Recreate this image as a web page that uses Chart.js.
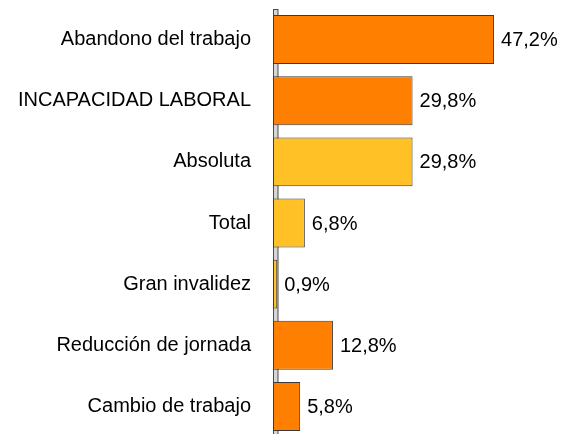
<!DOCTYPE html>
<html>
<head>
<meta charset="utf-8">
<script src="https://cdn.jsdelivr.net/npm/chart.js@4/dist/chart.umd.min.js"></script>
<style>
  html, body { margin: 0; padding: 0; background: #fff; overflow: hidden; }
  #wrap { position: relative; width: 561px; height: 440px; }
</style>
</head>
<body>
<div id="wrap"><canvas id="c" width="561" height="440"></canvas></div>
<script>
const categories = ["Abandono del trabajo", "INCAPACIDAD LABORAL", "Absoluta", "Total", "Gran invalidez", "Reducción de jornada", "Cambio de trabajo"];
const values = [47.2, 29.8, 29.8, 6.8, 0.9, 12.8, 5.8];
const barColors = ["#FF8000", "#FF8000", "#FFC125", "#FFC125", "#FFC125", "#FF8000", "#FF8000"];
const xMax = 60;

const FONT = "'Liberation Sans', Arial, sans-serif";

const wallPlugin = {
  id: 'wall',
  beforeDatasetsDraw(chart) {
    const { ctx, chartArea } = chart;
    ctx.save();
    ctx.fillStyle = '#d6d6d6';
    ctx.fillRect(chartArea.left, chartArea.top, 5, chartArea.bottom - chartArea.top + 10);
    ctx.strokeStyle = '#4a4a4a';
    ctx.lineWidth = 1;
    ctx.strokeRect(chartArea.left + 0.5, chartArea.top + 0.5, 4.5, chartArea.bottom - chartArea.top + 10);
    ctx.restore();
  }
};

const valueLabels = {
  id: 'valueLabels',
  afterDatasetsDraw(chart) {
    const { ctx } = chart;
    const meta = chart.getDatasetMeta(0);
    ctx.save();
    ctx.font = "20px " + FONT;
    ctx.fillStyle = '#000';
    ctx.textAlign = 'left';
    ctx.textBaseline = 'middle';
    meta.data.forEach((bar, i) => {
      const txt = values[i].toFixed(1).replace('.', ',') + '%';
      ctx.fillText(txt, bar.x + 7, bar.y + 1);
    });
    ctx.restore();
  }
};

new Chart(document.getElementById('c'), {
  type: 'bar',
  data: {
    labels: categories,
    datasets: [{
      data: values,
      backgroundColor: barColors,
      borderColor: '#3a3a3a',
      borderWidth: 1,
      borderSkipped: false,
      categoryPercentage: 0.8,
      barPercentage: 1.0
    }]
  },
  options: {
    indexAxis: 'y',
    responsive: false,
    animation: false,
    layout: { padding: { top: 9, bottom: 3, left: 0, right: 7 } },
    plugins: { legend: { display: false }, tooltip: { enabled: false } },
    scales: {
      x: { display: false, min: 0, max: xMax },
      y: {
        grid: { display: false, drawTicks: false },
        border: { display: false },
        ticks: {
          autoSkip: false,
          color: '#000',
          padding: 22,
          font: { family: FONT, size: 20 }
        },
        afterFit(scale) {
          scale.width = 273;
          scale.paddingTop = 0;
          scale.paddingBottom = 0;
        }
      }
    }
  },
  plugins: [wallPlugin, valueLabels]
});
</script>
</body>
</html>
